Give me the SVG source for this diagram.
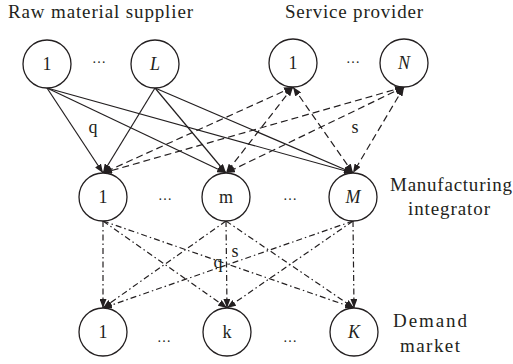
<svg xmlns="http://www.w3.org/2000/svg" width="513" height="364" viewBox="0 0 513 364">
<defs>
<style>
text{fill:#231f20}
.lbl{font-size:19px}
.nl{font-size:18px;text-anchor:middle}
.it{font-style:italic}
.dots{font-size:14px;text-anchor:middle}
.sm{font-size:18px;text-anchor:middle}
circle{fill:#fff;stroke:#231f20;stroke-width:1.3}
.e{fill:none;stroke:#231f20;stroke-width:1.2}
.solid{marker-end:url(#ah)}
.dash{stroke-dasharray:7 4;marker-end:url(#ah);marker-start:url(#ah)}
.dd{stroke-dasharray:6 3 1.5 3;marker-end:url(#ah)}
</style>
<marker id="ah" viewBox="0 0 9 7" refX="9" refY="3.5" markerWidth="9" markerHeight="7" markerUnits="userSpaceOnUse" orient="auto-start-reverse">
<path d="M0,0 L9,3.5 L0,7 z" fill="#231f20"/>
</marker>
</defs>

<g id="connectors">
<line class="e solid" x1="47" y1="88" x2="103" y2="173"/>
<line class="e solid" x1="47" y1="88" x2="226" y2="173"/>
<line class="e solid" x1="47" y1="88" x2="353" y2="173"/>
<line class="e solid" x1="155" y1="88" x2="103" y2="173"/>
<line class="e solid" x1="155" y1="88" x2="226" y2="173"/>
<line class="e solid" x1="155" y1="88" x2="353" y2="173"/>
<line class="e dash" x1="293" y1="87" x2="103" y2="173"/>
<line class="e dash" x1="293" y1="87" x2="226" y2="173"/>
<line class="e dash" x1="293" y1="87" x2="353" y2="173"/>
<line class="e dash" x1="404" y1="87" x2="103" y2="173"/>
<line class="e dash" x1="404" y1="87" x2="226" y2="173"/>
<line class="e dash" x1="404" y1="87" x2="353" y2="173"/>
<line class="e dd" x1="103" y1="221" x2="103" y2="308"/>
<line class="e dd" x1="103" y1="221" x2="227" y2="308"/>
<line class="e dd" x1="103" y1="221" x2="354" y2="308"/>
<line class="e dd" x1="226" y1="221" x2="103" y2="308"/>
<line class="e dd" x1="226" y1="221" x2="227" y2="308"/>
<line class="e dd" x1="226" y1="221" x2="354" y2="308"/>
<line class="e dd" x1="353" y1="221" x2="103" y2="308"/>
<line class="e dd" x1="353" y1="221" x2="227" y2="308"/>
<line class="e dd" x1="353" y1="221" x2="354" y2="308"/>
</g>

<g id="labels" font-family="'Liberation Serif', 'DejaVu Serif', serif">
<text class="lbl" x="8" y="18" textLength="185">Raw material supplier</text>
<text class="lbl" x="285" y="18" textLength="138">Service provider</text>
<text class="lbl" x="390" y="191" textLength="122">Manufacturing</text>
<text class="lbl" x="408" y="215" textLength="82">integrator</text>
<text class="lbl" x="393" y="327" textLength="74">Demand</text>
<text class="lbl" x="400" y="352" textLength="60">market</text>
<text class="sm" x="93" y="133">q</text>
<text class="sm" x="355" y="133">s</text>
<text class="sm" x="235" y="257">s</text>
<text class="sm" x="218" y="268">q</text>
<text class="dots" x="99" y="63">…</text>
<text class="dots" x="353" y="63">…</text>
<text class="dots" x="165" y="200">…</text>
<text class="dots" x="290" y="200">…</text>
<text class="dots" x="164" y="342">…</text>
<text class="dots" x="290" y="342">…</text>
</g>

<g font-family="'Liberation Serif', 'DejaVu Serif', serif">
<g id="raw-1"><circle cx="47" cy="64" r="24"/><text class="nl" x="47" y="70">1</text></g>
<g id="raw-L"><circle cx="155" cy="64" r="24"/><text class="nl it" x="155" y="70">L</text></g>
<g id="svc-1"><circle cx="293" cy="63" r="24"/><text class="nl" x="293" y="69">1</text></g>
<g id="svc-N"><circle cx="404" cy="63" r="24"/><text class="nl it" x="404" y="69">N</text></g>
<g id="mfg-1"><circle cx="103" cy="197" r="24"/><text class="nl" x="103" y="203">1</text></g>
<g id="mfg-m"><circle cx="226" cy="197" r="24"/><text class="nl" x="226" y="203">m</text></g>
<g id="mfg-M"><circle cx="353" cy="197" r="24"/><text class="nl it" x="353" y="203">M</text></g>
<g id="dem-1"><circle cx="103" cy="332" r="24"/><text class="nl" x="103" y="338">1</text></g>
<g id="dem-k"><circle cx="227" cy="332" r="24"/><text class="nl" x="227" y="338">k</text></g>
<g id="dem-K"><circle cx="354" cy="332" r="24"/><text class="nl it" x="354" y="338">K</text></g>
</g>
</svg>
